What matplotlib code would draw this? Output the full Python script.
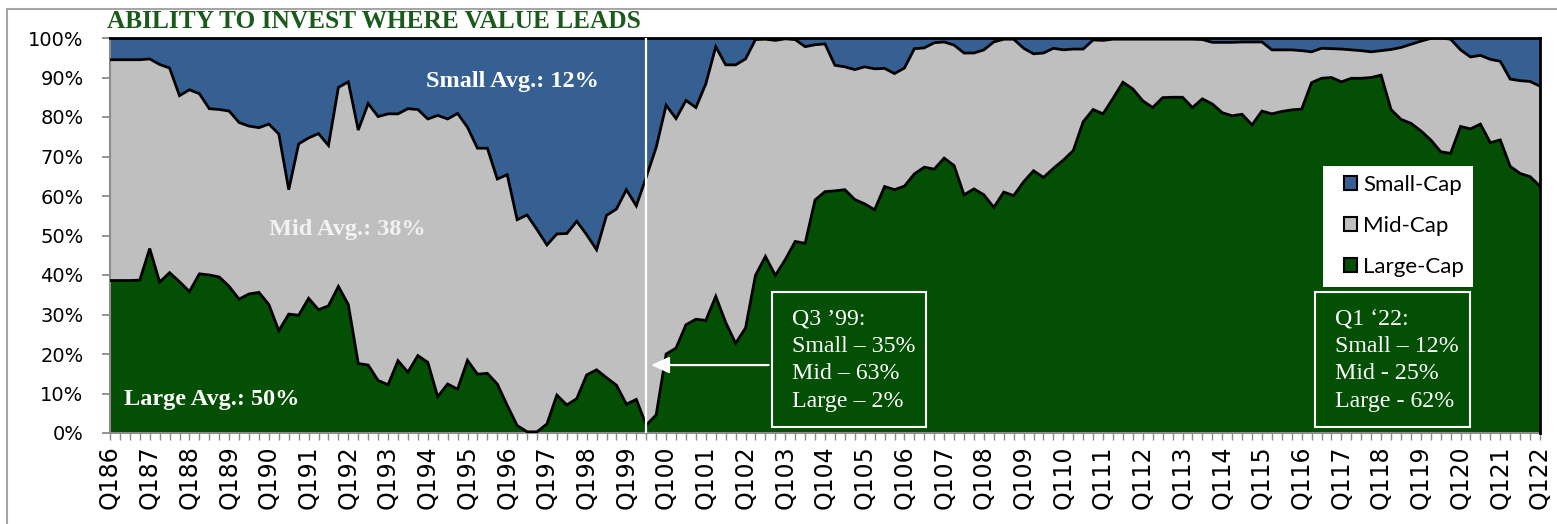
import numpy as np
import matplotlib
matplotlib.use("Agg")
import matplotlib.pyplot as plt
from matplotlib.patches import Patch, Rectangle

# --- Data: share of the index by size (%), quarterly Q1 1986 .. Q1 2022 ---
large_cap = [
    38.6, 38.6, 38.6, 38.7, 46.7, 38.2, 40.6, 38.3, 35.8, 40.3,
    40.0, 39.5, 37.1, 33.9, 35.2, 35.6, 32.5, 25.9, 30.1, 29.8,
    34.1, 31.2, 32.2, 37.1, 32.5, 17.6, 17.2, 13.3, 12.2, 18.3,
    15.4, 19.6, 17.9, 9.2, 12.4, 11.1, 18.4, 14.9, 15.1, 12.4,
    7.0, 1.9, 0.3, 0.3, 2.3, 9.6, 7.1, 8.7, 14.7, 16.0,
    14.0, 12.1, 7.3, 8.5, 2.0, 4.6, 20.0, 21.5, 27.4, 28.8,
    28.5, 34.6, 28.0, 22.7, 26.6, 39.9, 44.7, 39.9, 43.9, 48.5,
    48.0, 59.0, 61.1, 61.3, 61.6, 59.1, 58.0, 56.5, 62.4, 61.6,
    62.5, 65.6, 67.3, 66.8, 69.6, 67.7, 60.3, 61.8, 60.3, 57.1,
    61.0, 60.1, 63.6, 66.4, 64.7, 67.0, 69.1, 71.5, 78.8, 81.9,
    80.8, 84.7, 88.8, 87.1, 84.1, 82.4, 84.9, 85.0, 85.0, 82.4,
    84.6, 83.3, 81.1, 80.3, 80.7, 78.0, 81.5, 80.8, 81.4, 81.8,
    82.0, 88.7, 89.8, 90.0, 88.9, 89.8, 89.8, 90.0, 90.6, 81.9,
    79.4, 78.4, 76.5, 74.2, 71.2, 70.8, 77.6, 77.0, 78.2, 73.5,
    74.2, 67.5, 65.7, 64.9, 62.5,
]
mid_cap = [
    55.9, 55.9, 55.9, 55.8, 48.0, 55.1, 51.8, 47.1, 51.1, 45.6,
    42.1, 42.4, 44.4, 44.7, 42.5, 41.7, 45.7, 49.8, 31.5, 43.4,
    40.6, 44.6, 40.6, 50.4, 56.4, 59.1, 66.2, 66.8, 68.6, 62.5,
    66.7, 62.3, 61.6, 71.2, 67.1, 69.8, 59.0, 57.2, 57.0, 51.9,
    58.4, 52.1, 54.9, 51.2, 45.3, 40.8, 43.4, 44.9, 35.5, 30.4,
    41.1, 44.6, 54.3, 49.0, 62.8, 67.7, 63.0, 58.1, 56.8, 53.6,
    59.9, 63.2, 65.2, 70.5, 68.1, 59.7, 55.0, 59.5, 55.9, 51.1,
    49.8, 39.3, 37.4, 31.8, 31.1, 32.9, 34.7, 35.7, 29.9, 29.4,
    29.9, 31.7, 30.2, 32.0, 29.4, 30.5, 35.9, 34.4, 36.7, 41.9,
    38.7, 39.6, 33.8, 29.6, 31.5, 30.4, 27.9, 25.7, 18.4, 17.6,
    18.6, 15.0, 10.9, 12.6, 15.6, 17.3, 14.8, 14.7, 14.7, 17.3,
    15.0, 15.6, 17.8, 18.6, 18.3, 21.0, 17.5, 16.2, 15.6, 15.2,
    14.8, 7.8, 7.6, 7.3, 8.3, 7.2, 7.0, 6.5, 6.2, 15.2,
    18.2, 20.0, 22.7, 25.7, 28.8, 28.9, 19.4, 18.2, 17.4, 21.1,
    19.9, 22.1, 23.5, 24.1, 25.3,
]
small_cap = [
    5.5, 5.5, 5.5, 5.5, 5.3, 6.7, 7.6, 14.6, 13.1, 14.1,
    17.9, 18.1, 18.5, 21.4, 22.3, 22.7, 21.8, 24.3, 38.4, 26.8,
    25.3, 24.2, 27.2, 12.5, 11.1, 23.3, 16.6, 19.9, 19.2, 19.2,
    17.9, 18.1, 20.5, 19.6, 20.5, 19.1, 22.6, 27.9, 27.9, 35.7,
    34.6, 46.0, 44.8, 48.5, 52.4, 49.6, 49.5, 46.4, 49.8, 53.6,
    44.9, 43.3, 38.4, 42.5, 35.2, 27.7, 17.0, 20.4, 15.8, 17.6,
    11.6, 2.2, 6.8, 6.8, 5.3, 0.4, 0.3, 0.6, 0.2, 0.4,
    2.2, 1.7, 1.5, 6.9, 7.3, 8.0, 7.3, 7.8, 7.7, 9.0,
    7.6, 2.7, 2.5, 1.2, 1.0, 1.8, 3.8, 3.8, 3.0, 1.0,
    0.3, 0.3, 2.6, 4.0, 3.8, 2.6, 3.0, 2.8, 2.8, 0.5,
    0.6, 0.3, 0.3, 0.3, 0.3, 0.3, 0.3, 0.3, 0.3, 0.3,
    0.4, 1.1, 1.1, 1.1, 1.0, 1.0, 1.0, 3.0, 3.0, 3.0,
    3.2, 3.5, 2.6, 2.7, 2.8, 3.0, 3.2, 3.5, 3.2, 2.9,
    2.4, 1.6, 0.8, 0.1, 0.0, 0.3, 3.0, 4.8, 4.4, 5.4,
    5.9, 10.4, 10.8, 11.0, 12.2,
]
# one label per Q1
xtick_labels = [
    "Q186", "Q187", "Q188", "Q189", "Q190", "Q191", "Q192", "Q193", "Q194",
    "Q195", "Q196", "Q197", "Q198", "Q199", "Q100", "Q101", "Q102", "Q103",
    "Q104", "Q105", "Q106", "Q107", "Q108", "Q109", "Q110", "Q111", "Q112",
    "Q113", "Q114", "Q115", "Q116", "Q117", "Q118", "Q119", "Q120", "Q121",
    "Q122",
]
series_names = ["Small-Cap", "Mid-Cap", "Large-Cap"]
highlight_quarter = 54  # Q3 '99

GREEN = "#034f03"
GRAY = "#bfbfbf"
BLUE = "#376092"
SERIF = "Liberation Serif"


def draw_chart():
    fig = plt.figure(figsize=(15.57, 5.24), dpi=100)
    W, H = 1557.0, 524.0
    ax = fig.add_axes([110 / W, 1 - 433 / H, 1430 / W, 395 / H])

    q = np.arange(len(large_cap))
    large = np.array(large_cap)
    mid = np.array(mid_cap)
    small = np.array(small_cap)

    ax.stackplot(q, large, mid, small, colors=[GREEN, GRAY, BLUE], linewidth=0)
    ax.plot(q, large, color="black", lw=2.0, solid_joinstyle="miter", zorder=3)
    ax.plot(q, large + mid, color="black", lw=2.0, solid_joinstyle="miter", zorder=3)

    ax.set_xlim(0, len(q) - 1)
    ax.set_ylim(0, 100)

    # axes styling
    for side in ["left", "bottom"]:
        ax.spines[side].set_color("#8c8c8c")
        ax.spines[side].set_linewidth(1.5)
    for side in ["top", "right"]:
        ax.spines[side].set_color("black")
        ax.spines[side].set_linewidth(2.0)
        ax.spines[side].set_zorder(4)

    ax.set_yticks(np.arange(0, 101, 10))
    ax.set_yticklabels([f"{v}%" for v in range(0, 101, 10)], fontsize=14)
    ax.tick_params(axis="y", length=6, width=1.3, color="#8c8c8c", pad=13)

    ax.set_xticks(q)
    labels = ["" for _ in q]
    for k, lab in enumerate(xtick_labels):
        labels[k * 4] = lab
    ax.set_xticklabels(labels, rotation=90, fontsize=17)
    ax.tick_params(axis="x", length=5, width=1.0, color="#8c8c8c", pad=4)

    # --- Annotations ---
    ax.axvline(highlight_quarter, color="white", lw=1.6, zorder=5)
    ax.annotate("", xy=(highlight_quarter + 0.2, 17.2), xytext=(66.6, 17.2),
                arrowprops=dict(arrowstyle="-|>,head_length=1.1,head_width=0.5",
                                color="white", lw=1.6), zorder=6)

    ax.text(40.5, 88.9, "Small Avg.: 12%", color="white", fontsize=17.5,
            fontweight="bold", family=SERIF, ha="center", va="center")
    ax.text(23.9, 51.4, "Mid Avg.: 38%", color="#f2f2f2", fontsize=17.5,
            fontweight="bold", family=SERIF, ha="center", va="center")
    ax.text(10.2, 8.4, "Large Avg.: 50%", color="white", fontsize=17.5,
            fontweight="bold", family=SERIF, ha="center", va="center")

    boxes = [
        (66.7, 82.2, 68.7, "Q3 \u201999:\nSmall \u2013 35%\nMid \u2013 63%\nLarge \u2013 2%"),
        (121.3, 137.0, 123.4, "Q1 \u201822:\nSmall \u2013 12%\nMid - 25%\nLarge - 62%"),
    ]
    for x0, x1, tx, txt in boxes:
        ax.add_patch(Rectangle((x0, 1.5), x1 - x0, 34.2, fill=False,
                               edgecolor="white", lw=1.5, zorder=6))
        ax.text(tx, 31.6, txt, color="white", fontsize=17.2, family=SERIF,
                ha="left", va="top", linespacing=1.41, zorder=6)

    # legend on its own white panel
    fig.add_artist(Rectangle((1323 / W, 1 - 287 / H), 150 / W, 121 / H,
                             facecolor="white", edgecolor="none",
                             transform=fig.transFigure, zorder=5))
    handles = [Patch(facecolor=c, edgecolor="black", lw=1.5)
               for c in [BLUE, GRAY, GREEN]]
    leg = fig.legend(handles, series_names, loc="upper left",
                     bbox_to_anchor=(1344 / W, 1 - 175 / H),
                     prop={"family": "Lato", "size": 16}, frameon=False,
                     borderpad=0, labelspacing=0.95,
                     handlelength=0.6, handleheight=0.6, handletextpad=0.25,
                     borderaxespad=0)
    leg.set_zorder(6)

    # title and outer frame
    fig.text(107 / W, 1 - 21 / H, "ABILITY TO INVEST WHERE VALUE LEADS",
             fontsize=18.3, fontweight="bold", family=SERIF, color="#1a5a1a",
             ha="left", va="center")
    fig.add_artist(Rectangle((7 / W, -0.1), 1.2, 1.1 - 9 / H, fill=False,
                             edgecolor="#a6a6a6", lw=1.5,
                             transform=fig.transFigure))

    fig.savefig("out.png", dpi=100)


if __name__ == "__main__":
    draw_chart()
